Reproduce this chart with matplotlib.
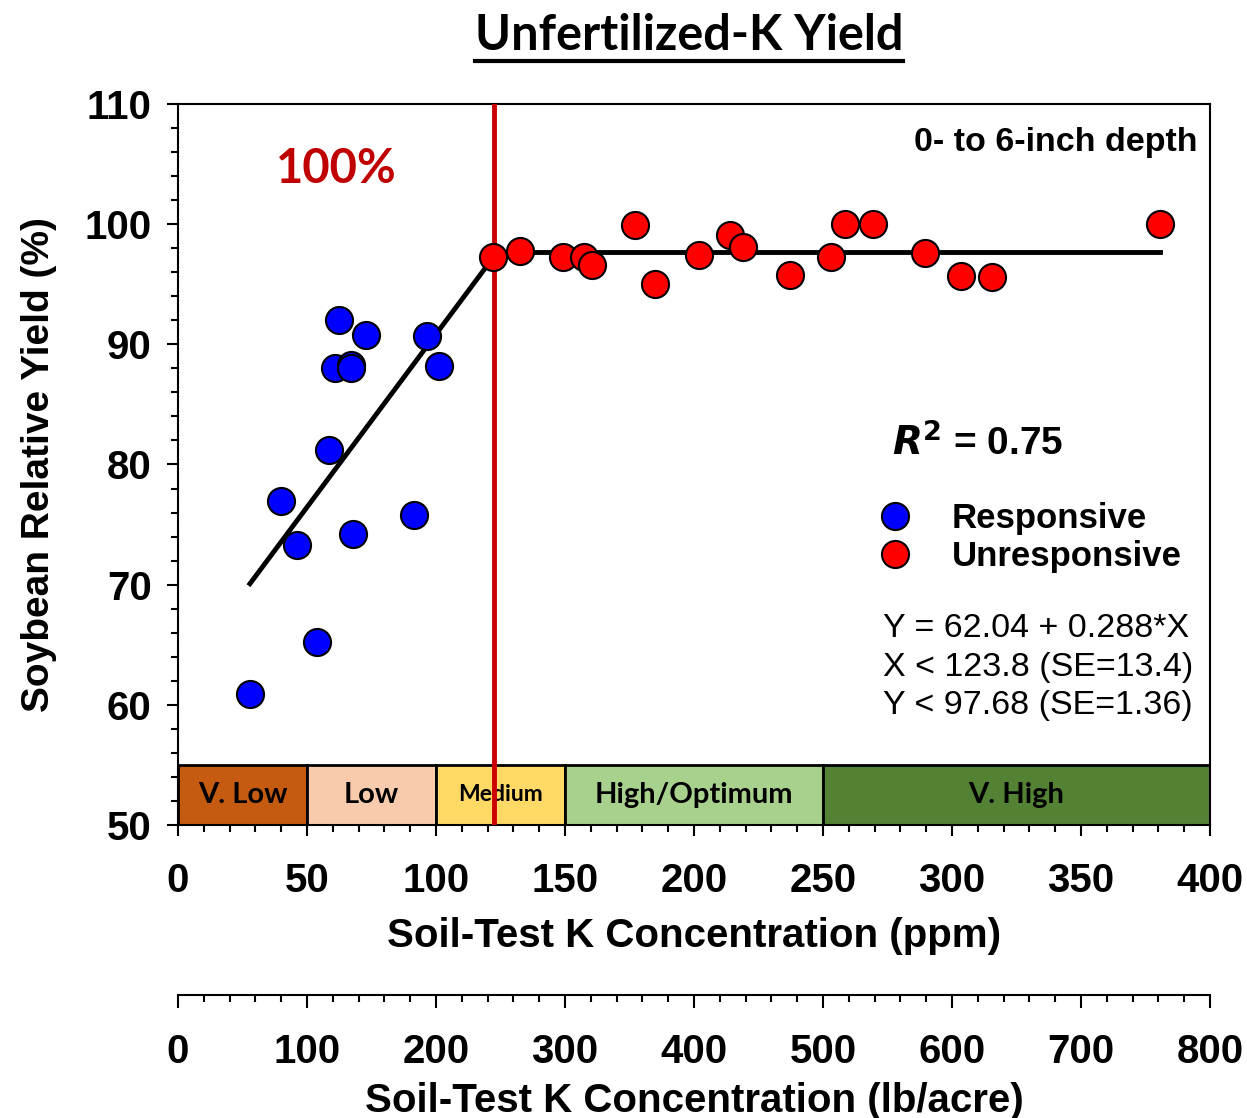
import numpy as np
import matplotlib
matplotlib.use("Agg")
import matplotlib.pyplot as plt
from matplotlib.lines import Line2D

# Data (x = soil-test K, ppm; y = relative yield, %)
resp_x = [27.9, 40.0, 46.1, 53.9, 58.5, 62.4, 60.7, 67.2, 67.2, 67.8, 73.0, 91.4, 96.6, 101.2]
resp_y = [60.9, 77.0, 73.3, 65.2, 81.2, 92.0, 88.0, 88.3, 88.0, 74.2, 90.8, 75.8, 90.7, 88.2]
unresp_x = [122.2, 132.6, 149.1, 157.4, 160.3, 177.1, 184.9, 201.9, 214.0, 218.9,
            237.2, 253.0, 258.5, 269.5, 289.5, 303.5, 315.4, 380.6]
unresp_y = [97.3, 97.8, 97.3, 97.3, 96.6, 99.9, 95.0, 97.4, 99.1, 98.1,
            95.8, 97.3, 100.0, 100.0, 97.6, 95.7, 95.6, 100.0]

intercept, slope = 62.04, 0.288
plateau = 97.68
join_x = 122.5  # where the drawn break sits

band_edges = [0, 50, 100, 150, 250, 400]
band_names = ["V. Low", "Low", "Medium", "High/Optimum", "V. High"]
band_colors = ["#C55A11", "#F8CBAD", "#FFD966", "#A9D18E", "#548235"]

ARIAL = "Liberation Sans"
CALIBRI = "Lato"
TICK_FS = 29
LABEL_FS = 29

fig = plt.figure(figsize=(12.47, 11.18), dpi=100)
ax = fig.add_axes([0.1427, 0.2621, 0.8276, 0.6449])

# rating bands along the bottom
for i, name in enumerate(band_names):
    left, right = band_edges[i], band_edges[i + 1]
    ax.bar(left, 5, width=right - left, bottom=50, align="edge",
           color=band_colors[i], edgecolor="black", linewidth=2, zorder=2)
    ax.text((left + right) / 2, 52.5, name, ha="center", va="center",
            fontsize=16.5 if name == "Medium" else 21, fontweight="bold",
            family=CALIBRI, zorder=3)

# linear-plateau fit
lx = np.array([min(resp_x), join_x])
ax.plot(lx, intercept + slope * lx, color="black", lw=3.5, zorder=4)
ax.plot([join_x, max(unresp_x)], [plateau, plateau], color="black", lw=3.5, zorder=4)

ax.axvline(join_x, color="#CC0000", lw=3.5, zorder=5)

ax.scatter(resp_x, resp_y, s=380, color="#0000FF", edgecolor="black", linewidth=1.5, zorder=6)
ax.scatter(unresp_x, unresp_y, s=380, color="#FF0000", edgecolor="black", linewidth=1.5, zorder=6)

ax.set_xlim(0, 400)
ax.set_ylim(50, 110)
ax.set_xticks(np.arange(0, 401, 50))
ax.set_xticks(np.arange(0, 401, 10), minor=True)
ax.set_yticks(np.arange(50, 111, 10))
ax.set_yticks(np.arange(50, 111, 2), minor=True)
for sp in ax.spines.values():
    sp.set_linewidth(1.5)
ax.tick_params(which="major", direction="out", length=8, width=1.5)
ax.tick_params(which="minor", direction="out", length=5, width=1.5)
ax.tick_params(axis="x", which="major", pad=19)
ax.tick_params(axis="y", which="major", pad=11)
for lab in ax.get_xticklabels() + ax.get_yticklabels():
    lab.set_fontsize(TICK_FS)
    lab.set_fontweight("bold")
    lab.set_family(ARIAL)

ax.set_xlabel("Soil-Test K Concentration (ppm)", fontsize=LABEL_FS, fontweight="bold",
              family=ARIAL, labelpad=12)
ax.set_ylabel("Soybean Relative Yield (%)", fontsize=28, fontweight="bold",
              family=ARIAL, labelpad=20)

# second axis in lb/acre
sec = ax.secondary_xaxis(-0.236, functions=(lambda x: x * 2, lambda x: x / 2))
sec.set_xticks(np.arange(0, 801, 100))
sec.set_xticks(np.arange(0, 801, 20), minor=True)
sec.spines["bottom"].set_linewidth(1.5)
sec.tick_params(which="major", direction="out", length=9, width=1.5, pad=18)
sec.tick_params(which="minor", direction="out", length=5, width=1.5)
for lab in sec.get_xticklabels():
    lab.set_fontsize(TICK_FS)
    lab.set_fontweight("bold")
    lab.set_family(ARIAL)
sec.set_xlabel("Soil-Test K Concentration (lb/acre)", fontsize=LABEL_FS, fontweight="bold",
               family=ARIAL, labelpad=8)

# annotations
ax.text(0.095, 0.91, "100%", transform=ax.transAxes, color="#C00000",
        fontsize=34, fontweight="bold", family=CALIBRI, ha="left", va="center")
ax.text(0.988, 0.946, "0- to 6-inch depth", transform=ax.transAxes,
        fontsize=24.5, fontweight="bold", family=ARIAL, ha="right", va="center")
ax.text(0.692, 0.53, r"$\mathbfit{R}^{\mathbf{2}}$ = 0.75", transform=ax.transAxes,
        fontsize=28, fontweight="bold", family=ARIAL, ha="left", va="center")

ax.scatter([0.695], [0.428], s=380, color="#0000FF", edgecolor="black", linewidth=1.5,
           transform=ax.transAxes, clip_on=False, zorder=6)
ax.scatter([0.695], [0.376], s=380, color="#FF0000", edgecolor="black", linewidth=1.5,
           transform=ax.transAxes, clip_on=False, zorder=6)
ax.text(0.750, 0.425, "Responsive", transform=ax.transAxes, fontsize=25,
        fontweight="bold", family=ARIAL, ha="left", va="center")
ax.text(0.750, 0.373, "Unresponsive", transform=ax.transAxes, fontsize=25,
        fontweight="bold", family=ARIAL, ha="left", va="center")

eq_lines = ["Y = 62.04 + 0.288*X", "X < 123.8 (SE=13.4)", "Y < 97.68 (SE=1.36)"]
for i, line in enumerate(eq_lines):
    ax.text(0.683, 0.272 - i * 0.053, line, transform=ax.transAxes, fontsize=24.5,
            family=ARIAL, ha="left", va="center")

title = fig.text(0.5525, 0.968, "Unfertilized-K Yield", fontsize=35, fontweight="bold",
                 family=CALIBRI, ha="center", va="center")
fig.canvas.draw()
bb = title.get_window_extent().transformed(fig.transFigure.inverted())
fig.add_artist(Line2D([bb.x0, bb.x1], [bb.y0 - 0.002, bb.y0 - 0.002],
                      transform=fig.transFigure, color="black", lw=3))

fig.savefig("out.png", dpi=100)
